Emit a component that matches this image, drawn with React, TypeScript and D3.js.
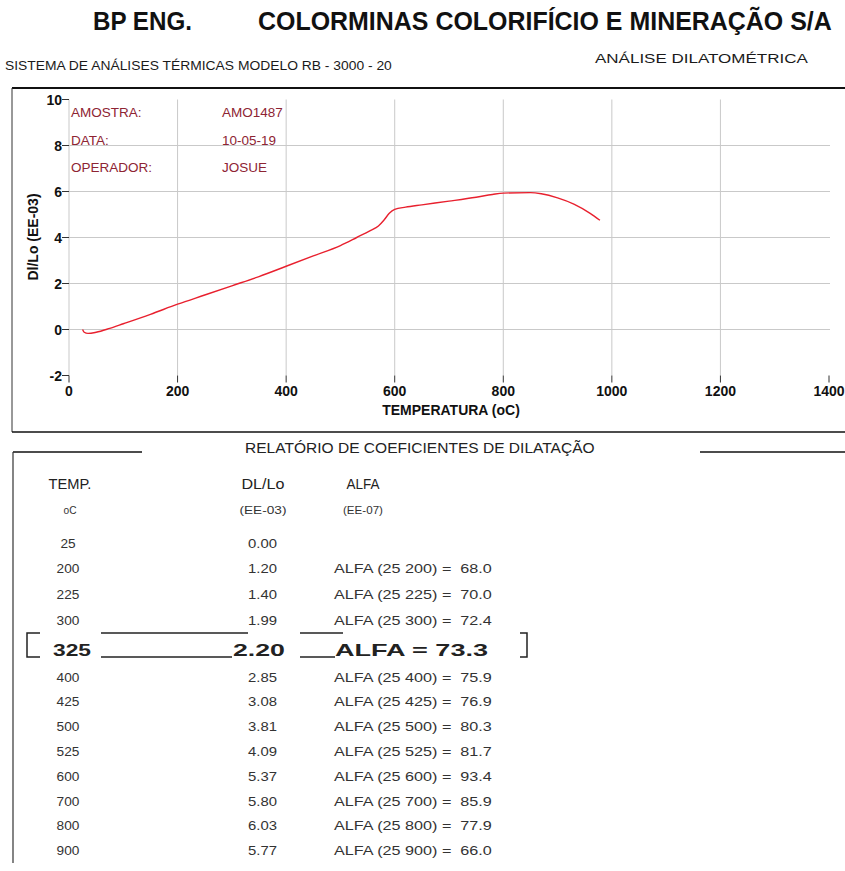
import { useEffect, useRef } from 'react';
import * as d3 from 'd3';

// dilatometric curve (temperature oC, Dl/Lo EE-03)
const curveTemp = [25, 28, 35, 50, 75, 100, 150, 200, 250, 300, 350, 400, 450, 500, 530, 555, 570, 580, 590, 600, 620, 650, 700, 750, 780, 800, 850, 870, 900, 930, 960, 978];
const curveDl = [0.0, -0.12, -0.17, -0.12, 0.05, 0.25, 0.66, 1.1, 1.5, 1.9, 2.3, 2.75, 3.2, 3.65, 4.0, 4.3, 4.5, 4.75, 5.05, 5.22, 5.32, 5.42, 5.58, 5.75, 5.87, 5.93, 5.95, 5.9, 5.72, 5.45, 5.05, 4.75];

const xTicks = [0, 200, 400, 600, 800, 1000, 1200, 1400];
const yTicks = [-2, 0, 2, 4, 6, 8, 10];

const infoLabels = ['AMOSTRA:', 'DATA:', 'OPERADOR:'];
const infoValues = ['AMO1487', '10-05-19', 'JOSUE'];

// report table
const reportTemps = ['25', '200', '225', '300', '325', '400', '425', '500', '525', '600', '700', '800', '900'];
const reportDl = ['0.00', '1.20', '1.40', '1.99', '2.20', '2.85', '3.08', '3.81', '4.09', '5.37', '5.80', '6.03', '5.77'];
const reportAlfa = ['', '68.0', '70.0', '72.4', '73.3', '75.9', '76.9', '80.3', '81.7', '93.4', '85.9', '77.9', '66.0'];
const highlightIdx = 4;

const W = 845;
const H = 871;
const sans = '"Liberation Sans", Arial, sans-serif';

type G = d3.Selection<any, unknown, null, undefined>;

// put a text at (x, y) and squeeze it horizontally so that it is `width` wide
const fitText = (
  parent: G, txt: string, x: number, y: number, width: number,
  size: number, weight = 'normal', anchor = 'start', fill = '#1a1a1a'
) => {
  const t = parent.append('text')
    .attr('font-family', sans).attr('font-size', size).attr('font-weight', weight)
    .attr('fill', fill)
    .attr('xml:space', 'preserve')
    .text(txt);
  const natural = (t.node() as SVGTextElement).getComputedTextLength() || width;
  const sx = width / natural;
  const x0 = anchor === 'middle' ? x - width / 2 : anchor === 'end' ? x - width : x;
  t.attr('transform', `translate(${x0},${y}) scale(${sx},1)`);
  return t;
};

const App = () => {
  const svgRef = useRef<SVGSVGElement>(null);

  useEffect(() => {
    const svg = d3.select(svgRef.current) as unknown as G;
    svg.selectAll('*').remove();

    svg.append('rect').attr('width', W).attr('height', H).attr('fill', '#fff');

    // header
    fitText(svg, 'BP ENG.', 93, 30, 99, 25, 'bold', 'start', '#111');
    fitText(svg, 'COLORMINAS COLORIFÍCIO E MINERAÇÃO S/A', 258, 30, 574, 25, 'bold', 'start', '#111');
    fitText(svg, 'SISTEMA DE ANÁLISES TÉRMICAS MODELO RB - 3000 - 20', 5, 70, 387, 12.5);
    fitText(svg, 'ANÁLISE DILATOMÉTRICA', 595, 63, 213, 13);

    // chart frame
    svg.append('line').attr('x1', 12).attr('x2', W).attr('y1', 88).attr('y2', 88)
      .attr('stroke', '#111').attr('stroke-width', 2);
    svg.append('line').attr('x1', 12).attr('x2', 12).attr('y1', 88).attr('y2', 432)
      .attr('stroke', '#333').attr('stroke-width', 1);
    svg.append('line').attr('x1', 12).attr('x2', W).attr('y1', 432).attr('y2', 432)
      .attr('stroke', '#111').attr('stroke-width', 1.5);

    const x = d3.scaleLinear().domain([0, 1400]).range([69, 829]);
    const y = d3.scaleLinear().domain([-2, 10]).range([375.5, 99.5]);

    const grid = svg.append('g').attr('stroke', '#c9c9c9').attr('stroke-width', 1);
    grid.selectAll('.v').data(xTicks.filter(d => d < 1400)).enter().append('line')
      .attr('x1', d => x(d)).attr('x2', d => x(d))
      .attr('y1', y(10)).attr('y2', y(-2));
    grid.selectAll('.h').data(yTicks.filter(d => d > -2 && d < 10)).enter().append('line')
      .attr('x1', x(0)).attr('x2', x(1400) + 1)
      .attr('y1', d => y(d)).attr('y2', d => y(d));

    // y ticks + labels
    const yAxis = svg.append('g');
    yAxis.selectAll('line').data(yTicks).enter().append('line')
      .attr('x1', x(0) - 7).attr('x2', x(0))
      .attr('y1', d => y(d)).attr('y2', d => y(d))
      .attr('stroke', '#333');
    yAxis.selectAll('text').data(yTicks).enter().append('text')
      .attr('x', x(0) - 7).attr('y', d => y(d) + 5)
      .attr('text-anchor', 'end')
      .attr('font-family', sans).attr('font-size', 14).attr('font-weight', 'bold')
      .attr('fill', '#111')
      .text(d => d);

    // x ticks + labels
    const xAxis = svg.append('g');
    xAxis.selectAll('line').data(xTicks).enter().append('line')
      .attr('x1', d => x(d)).attr('x2', d => x(d))
      .attr('y1', y(-2)).attr('y2', y(-2) + 7)
      .attr('stroke', '#333');
    xAxis.selectAll('text').data(xTicks).enter().append('text')
      .attr('x', d => x(d)).attr('y', 396)
      .attr('text-anchor', 'middle')
      .attr('font-family', sans).attr('font-size', 14).attr('font-weight', 'bold')
      .attr('fill', '#111')
      .text(d => d);

    svg.append('text')
      .attr('x', 451).attr('y', 415)
      .attr('text-anchor', 'middle')
      .attr('font-family', sans).attr('font-size', 14).attr('font-weight', 'bold')
      .attr('fill', '#111')
      .text('TEMPERATURA (oC)');

    svg.append('text')
      .attr('transform', 'translate(38,237) rotate(-90)')
      .attr('text-anchor', 'middle')
      .attr('font-family', sans).attr('font-size', 14).attr('font-weight', 'bold')
      .attr('fill', '#111')
      .text('Dl/Lo (EE-03)');

    // sample info
    const info = svg.append('g')
      .attr('font-family', sans).attr('font-size', 13.5).attr('fill', '#8e2433');
    infoLabels.forEach((l, i) => {
      info.append('text').attr('x', 71).attr('y', 117 + i * 27.5).text(l);
      info.append('text').attr('x', 222).attr('y', 117 + i * 27.5).text(infoValues[i]);
    });

    // curve
    const pts: [number, number][] = curveTemp.map((t, i) => [t, curveDl[i]]);
    const line = d3.line<[number, number]>()
      .x(d => x(d[0])).y(d => y(d[1]))
      .curve(d3.curveMonotoneX);
    svg.append('path')
      .datum(pts)
      .attr('d', line)
      .attr('fill', 'none')
      .attr('stroke', '#e8202e')
      .attr('stroke-width', 1.4);

    // report section
    fitText(svg, 'RELATÓRIO DE COEFICIENTES DE DILATAÇÃO', 245, 453, 350, 14, 'normal', 'start', '#222');
    svg.append('line').attr('x1', 13).attr('x2', 142).attr('y1', 452).attr('y2', 452)
      .attr('stroke', '#111').attr('stroke-width', 1.5);
    svg.append('line').attr('x1', 700).attr('x2', W).attr('y1', 452).attr('y2', 452)
      .attr('stroke', '#111').attr('stroke-width', 1.5);
    svg.append('line').attr('x1', 13).attr('x2', 13).attr('y1', 452).attr('y2', 863)
      .attr('stroke', '#333').attr('stroke-width', 1.2);

    const tbl = svg.append('g') as unknown as G;
    fitText(tbl, 'TEMP.', 70, 489, 43, 15, 'normal', 'middle', '#222');
    fitText(tbl, 'DL/Lo', 263, 489, 43, 15, 'normal', 'middle', '#222');
    fitText(tbl, 'ALFA', 363, 489, 33, 15, 'normal', 'middle', '#222');
    fitText(tbl, 'oC', 70, 514, 13, 11, 'normal', 'middle', '#333');
    fitText(tbl, '(EE-03)', 263, 514, 47, 11, 'normal', 'middle', '#333');
    fitText(tbl, '(EE-07)', 363, 514, 40, 11, 'normal', 'middle', '#333');

    const rowY = (i: number) => (i < highlightIdx ? 543 + i * 25.7 : i === highlightIdx ? 656 : 677 + (i - highlightIdx - 1) * 24.8);

    reportTemps.forEach((t, i) => {
      if (i === highlightIdx) return;
      const yy = rowY(i) + 4.5;
      fitText(tbl, t, 68, yy, t.length * 7.6, 12.5, 'normal', 'middle', '#333');
      fitText(tbl, reportDl[i], 277, yy, 29, 12.5, 'normal', 'end', '#333');
      if (reportAlfa[i]) {
        fitText(tbl, `ALFA (25 ${t}) =  ${reportAlfa[i]}`, 334, yy, 158, 12.5, 'normal', 'start', '#333');
      }
    });

    // highlighted row
    const hy = rowY(highlightIdx);
    fitText(svg, reportTemps[highlightIdx], 53, hy, 38, 17, 'bold', 'start', '#222');
    fitText(svg, reportDl[highlightIdx], 233, hy, 52, 17, 'bold', 'start', '#222');
    fitText(svg, `ALFA = ${reportAlfa[highlightIdx]}`, 335, hy, 153, 17, 'bold', 'start', '#222');

    const br = svg.append('g').attr('stroke', '#222').attr('stroke-width', 1.5).attr('fill', 'none');
    const top = 633;
    const bot = 657;
    br.append('path').attr('d', `M40,${top}H27V${bot}H40`);
    br.append('path').attr('d', `M520,${top}H527V${bot}H520`);
    br.append('line').attr('x1', 101).attr('x2', 248).attr('y1', top).attr('y2', top);
    br.append('line').attr('x1', 101).attr('x2', 232).attr('y1', bot).attr('y2', bot);
    br.append('line').attr('x1', 300).attr('x2', 343).attr('y1', top).attr('y2', top);
    br.append('line').attr('x1', 300).attr('x2', 335).attr('y1', bot).attr('y2', bot);
  }, []);

  return (
    <svg
      ref={svgRef}
      width={W}
      height={H}
      style={{ position: 'absolute', left: 0, top: 0, background: '#fff' }}
    />
  );
};

export default App;
